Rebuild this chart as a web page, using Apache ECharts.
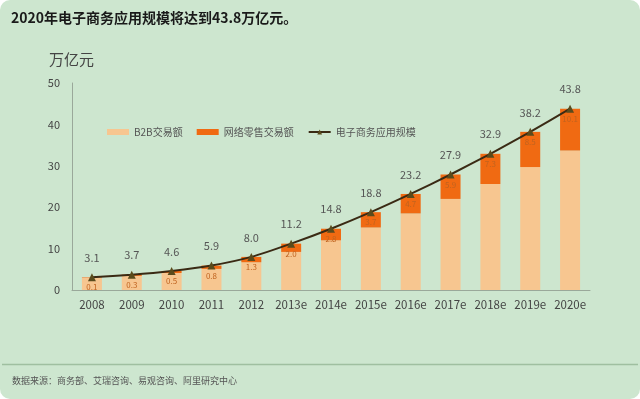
<!DOCTYPE html>
<html><head><meta charset="utf-8">
<script src="https://cdn.jsdelivr.net/npm/echarts@6/dist/echarts.min.js"></script>
<style>
html,body{margin:0;padding:0;background:#ffffff;}
#c{width:640px;height:399px;background:#cde6cf;border-radius:10px;}
</style></head>
<body><div id="c"></div>
<script>
var categories = ['2008','2009','2010','2011','2012','2013e','2014e','2015e','2016e','2017e','2018e','2019e','2020e'];
var b2b = [3.0,3.4,4.1,5.1,6.7,9.2,12.0,15.1,18.5,22.0,25.6,29.7,33.7];
var retail = [0.1,0.3,0.5,0.8,1.3,2.0,2.8,3.7,4.7,5.9,7.3,8.5,10.1];
var total = [3.1,3.7,4.6,5.9,8.0,11.2,14.8,18.8,23.2,27.9,32.9,38.2,43.8];
var yTicks = [0,10,20,30,40,50];

var font = '"Noto Sans CJK SC","Microsoft YaHei",sans-serif';
var chart = echarts.init(document.getElementById('c'));
chart.setOption({
  backgroundColor: 'transparent',
  textStyle: {fontFamily: font},
  title: [
    {text: '2020年电子商务应用规模将达到43.8万亿元。', left: 6, top: 6,
     textStyle: {fontSize: 14, fontWeight: 'bold', color: '#1a1a1a', fontFamily: font}},
    {text: '万亿元', left: 44, top: 47,
     textStyle: {fontSize: 15, fontWeight: 'normal', color: '#444', fontFamily: font}},
    {text: '数据来源：商务部、艾瑞咨询、易观咨询、阿里研究中心', left: 7, top: 371,
     textStyle: {fontSize: 9, fontWeight: 'normal', color: '#555', fontFamily: font}}
  ],
  graphic: [
    {type: 'line', shape: {x1: 2, y1: 364.5, x2: 638, y2: 364.5},
     style: {stroke: '#9fbfa0', lineWidth: 1.5}}
  ],
  legend: {
    left: 102, top: 122, itemWidth: 22, itemHeight: 6, itemGap: 14,
    textStyle: {fontSize: 10, color: '#555'},
    data: [
      {name: 'B2B交易额', icon: 'rect'},
      {name: '网络零售交易额', icon: 'rect'},
      {name: '电子商务应用规模'}
    ]
  },
  grid: {left: 72, right: 50, top: 83, bottom: 109},
  xAxis: {
    type: 'category', data: categories,
    axisLine: {lineStyle: {color: '#9aa89a'}},
    axisTick: {show: false},
    axisLabel: {fontSize: 11.5, color: '#444', margin: 9, interval: 0}
  },
  yAxis: {
    type: 'value', min: 0, max: 50, interval: 10,
    axisLine: {show: true, lineStyle: {color: '#9aa89a'}},
    axisTick: {show: false},
    splitLine: {show: false},
    axisLabel: {fontSize: 11, color: '#444', margin: 12,
      formatter: function(v){ return yTicks.indexOf(v) >= 0 ? String(v) : ''; }}
  },
  series: [
    {name: 'B2B交易额', type: 'bar', stack: 's', data: b2b, barWidth: 20,
     itemStyle: {color: '#f7c690'}},
    {name: '网络零售交易额', type: 'bar', stack: 's', data: retail, barWidth: 20,
     itemStyle: {color: '#f06a12'},
     label: {show: true, position: 'insideTop', distance: 6, fontSize: 8, color: '#c0631f',
       formatter: function(p){ return p.value.toFixed(1); }}},
    {name: '电子商务应用规模', type: 'line', data: total, smooth: 0.2,
     symbol: 'triangle', symbolSize: 8,
     lineStyle: {color: '#3a2a14', width: 2},
     itemStyle: {color: '#5a4b1c'},
     label: {show: true, position: 'top', distance: 10, fontSize: 11, color: '#555',
       formatter: function(p){ return p.value.toFixed(1); }},
     z: 5}
  ]
});
</script></body></html>
